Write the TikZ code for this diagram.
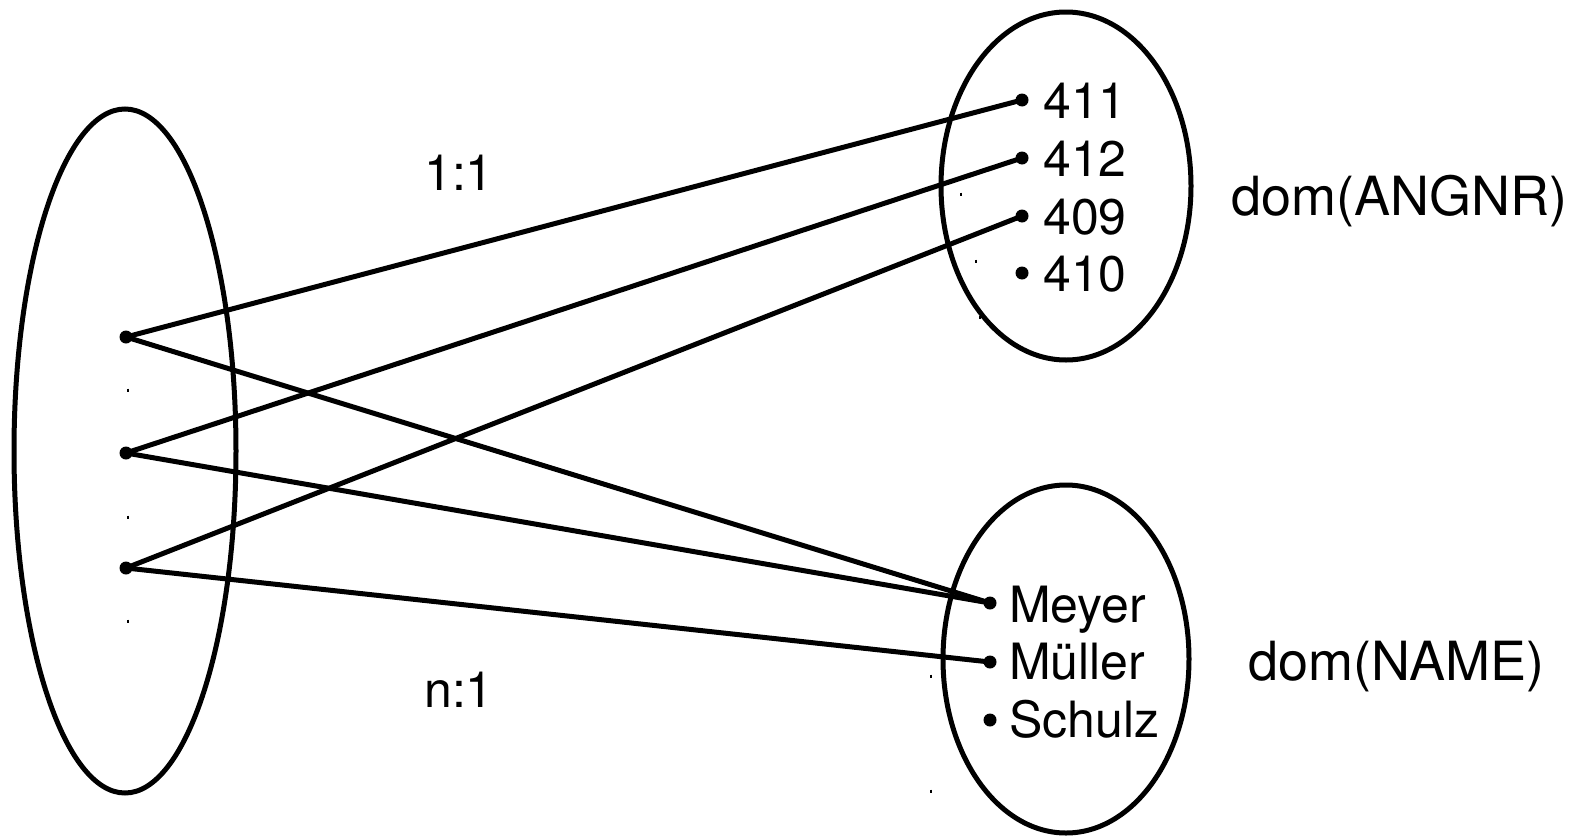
\documentclass[tikz,border=0pt]{standalone}
\usepackage{fontspec}
\setmainfont{TeX Gyre Heros}
\usetikzlibrary{shapes.geometric}
\begin{document}
\begin{tikzpicture}[x=1pt,y=-1pt,
  setshape/.style={ellipse,draw,line width=5pt,inner sep=0pt,outer sep=0pt},
  elem/.style={circle,fill,inner sep=0pt,minimum size=13pt,outer sep=0pt},
  lbl/.style={anchor=base west,inner sep=0pt,font=\fontsize{50}{60}\selectfont},
  domlbl/.style={anchor=base west,inner sep=0pt,font=\fontsize{54}{64}\selectfont},
  conn/.style={line width=5pt},
  speck/.style={line width=1.2pt}]
\useasboundingbox (0,0) rectangle (1572,838);
% sets
\node[setshape,minimum width=222pt,minimum height=684pt] (S) at (125,451) {};
\node[setshape,minimum width=250pt,minimum height=348pt] (A) at (1066,186) {};
\node[setshape,minimum width=246pt,minimum height=348pt] (N) at (1066,659) {};
% left elements
\node[elem] (l1) at (126,337) {};
\node[elem] (l2) at (126,453) {};
\node[elem] (l3) at (126,568) {};
% ANGNR elements
\node[elem] (a411) at (1022,100) {};
\node[elem] (a412) at (1022,158) {};
\node[elem] (a409) at (1022,216) {};
\node[elem] (a410) at (1022,273) {};
\node[lbl] (t411) at (1043,118) {411};
\node[lbl] (t412) at (1043,176.5) {412};
\node[lbl] (t409) at (1043,234) {409};
\node[lbl] (t410) at (1043,291) {410};
% NAME elements
\node[elem] (nMeyer) at (990,603) {};
\node[elem] (nMueller) at (990,662) {};
\node[elem] (nSchulz) at (990,720) {};
\node[lbl] (tMeyer) at (1009,622) {Meyer};
\node[lbl] (tMueller) at (1009,679) {Müller};
\node[lbl] (tSchulz) at (1009,737) {Schulz};
% labels
\node[lbl] (r11) at (424,190) {1:1};
\node[lbl] (rn1) at (424,707) {n:1};
\node[domlbl] (dA) at (1231,215) {dom(ANGNR)};
\node[domlbl] (dN) at (1248,680) {dom(NAME)};
% connectors
\draw[conn] (l1.center) -- (a411.center);
\draw[conn] (l1.center) -- (nMeyer.center);
\draw[conn] (l2.center) -- (a412.center);
\draw[conn] (l2.center) -- (nMeyer.center);
\draw[conn] (l3.center) -- (a409.center);
\draw[conn] (l3.center) -- (nMueller.center);
% stray specks
\foreach \p in {(128,390),(128,517),(128,621),(961,194),(976,261),(980,317),(931,676),(931,791)}
  \draw[speck] \p ++(0,-1.5) -- ++(0,3);
\end{tikzpicture}
\end{document}
